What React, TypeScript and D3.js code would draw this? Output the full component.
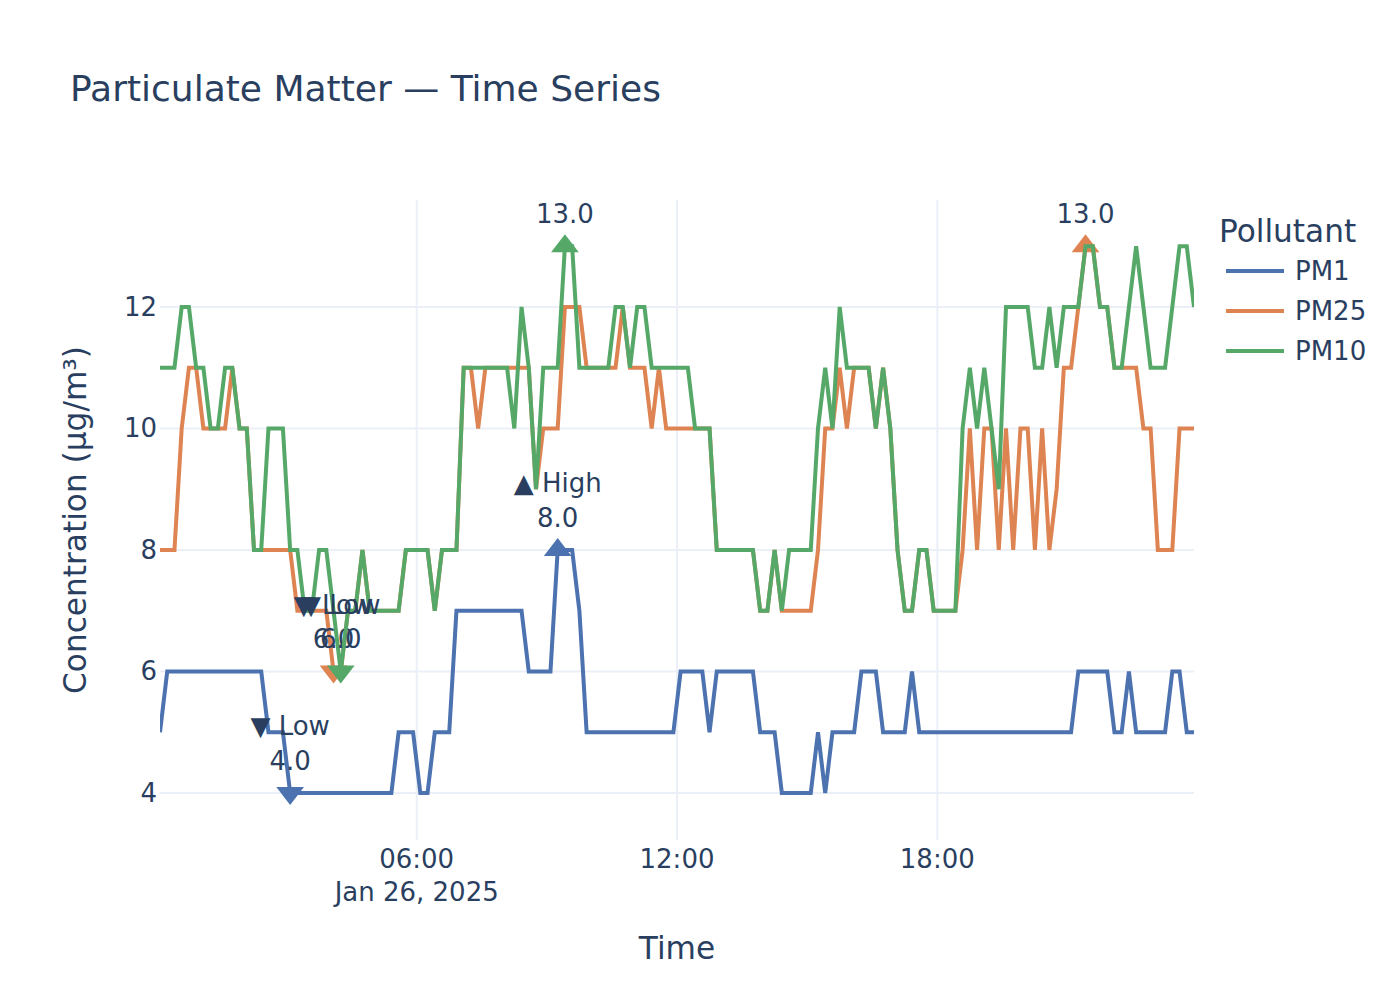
import React from 'react';
import * as d3 from 'd3';

// ---------- data ----------
const START = new Date(2025, 0, 26, 0, 5);
const STEP_MIN = 10;

const SERIES_NAMES = ['PM1', 'PM25', 'PM10'];
const COLORS = ['#4c72b0', '#dd8452', '#55a868'];

const PM1 = [
  5,
  6, 6, 6, 6, 6, 6, 6, 6, 6, 6, 6, 6, 6, 6,
  5, 5, 5,
  4, 4, 4, 4, 4, 4, 4, 4, 4, 4, 4, 4, 4, 4, 4,
  5, 5, 5,
  4, 4,
  5, 5, 5,
  7, 7, 7, 7, 7, 7, 7, 7, 7, 7,
  6, 6, 6, 6,
  8, 8, 8,
  7,
  5, 5, 5, 5, 5, 5, 5, 5, 5, 5, 5, 5, 5,
  6, 6, 6, 6,
  5,
  6, 6, 6, 6, 6, 6,
  5, 5, 5,
  4, 4, 4, 4, 4,
  5,
  4,
  5, 5, 5, 5,
  6, 6, 6,
  5, 5, 5, 5,
  6,
  5, 5, 5, 5, 5, 5, 5, 5, 5, 5, 5, 5, 5, 5, 5, 5, 5, 5, 5, 5, 5, 5,
  6, 6, 6, 6, 6,
  5, 5,
  6,
  5, 5, 5, 5, 5,
  6, 6,
  5, 5,
];

const PM25 = [
  8, 8, 8,
  10, 11, 11,
  10, 10, 10, 10,
  11,
  10, 10,
  8, 8, 8, 8, 8, 8,
  7, 7, 7, 7, 7,
  6, 6,
  7, 7,
  8,
  7, 7, 7, 7, 7,
  8, 8, 8, 8,
  7,
  8, 8, 8,
  11, 11, 10, 11,
  11, 11, 11, 11, 11, 11,
  9,
  10, 10, 10,
  12, 12, 12,
  11, 11, 11, 11, 11,
  12,
  11, 11, 11,
  10,
  11,
  10, 10, 10, 10, 10, 10, 10,
  8, 8, 8, 8, 8, 8,
  7, 7,
  8,
  7, 7, 7, 7, 7,
  8,
  10, 10,
  11,
  10,
  11, 11, 11,
  10,
  11,
  10,
  8,
  7, 7,
  8, 8,
  7, 7, 7, 7,
  8,
  10,
  8,
  10, 10,
  8,
  10,
  8,
  10, 10,
  8,
  10,
  8,
  9,
  11, 11,
  12,
  13, 13,
  12, 12,
  11, 11, 11, 11,
  10, 10,
  8, 8, 8,
  10, 10, 10,
];

const PM10 = [
  11, 11, 11,
  12, 12,
  11, 11,
  10, 10,
  11, 11,
  10, 10,
  8, 8,
  10, 10, 10,
  8, 8,
  7, 7,
  8, 8,
  7,
  6,
  7, 7,
  8,
  7, 7, 7, 7, 7,
  8, 8, 8, 8,
  7,
  8, 8, 8,
  11, 11, 11, 11, 11, 11, 11,
  10,
  12,
  11,
  9,
  11, 11, 11,
  13, 13,
  11, 11, 11, 11, 11,
  12, 12,
  11,
  12, 12,
  11, 11, 11, 11, 11, 11,
  10, 10, 10,
  8, 8, 8, 8, 8, 8,
  7, 7,
  8,
  7,
  8, 8, 8, 8,
  10,
  11,
  10,
  12,
  11, 11, 11, 11,
  10,
  11,
  10,
  8,
  7, 7,
  8, 8,
  7, 7, 7, 7,
  10,
  11,
  10,
  11,
  10,
  9,
  12, 12, 12, 12,
  11, 11,
  12,
  11,
  12, 12, 12,
  13, 13,
  12, 12,
  11, 11,
  12,
  13,
  12,
  11, 11, 11,
  12,
  13, 13,
  12,
];

const Y_TICKS = [4, 6, 8, 10, 12];
const Y_DOMAIN = [3.226, 13.761];

const TITLE = 'Particulate Matter — Time Series';
const X_TITLE = 'Time';
const Y_TITLE = 'Concentration (µg/m³)';
const LEGEND_TITLE = 'Pollutant';
const LOW_LABEL = '▼ Low';
const HIGH_LABEL = '▲ High';

// ---------- styles ----------
const FONT = "'DejaVu Sans', Verdana, sans-serif";
const TEXT = '#2a3f5f';
const GRID = '#ebf0f8';

const triUp = (r: number) => {
  const rt = (r * 2) / Math.sqrt(3);
  return `M${-rt},${r / 2}H${rt}L0,${-r}Z`;
};
const triDown = (r: number) => {
  const rt = (r * 2) / Math.sqrt(3);
  return `M${-rt},${-r / 2}H${rt}L0,${r}Z`;
};

export default function App() {
  const W = 1400;
  const H = 1000;
  const px0 = 160, px1 = 1194, py0 = 200, py1 = 840;

  const n = PM1.length;
  const times = d3.timeMinute.range(
    START,
    d3.timeMinute.offset(START, STEP_MIN * n),
    STEP_MIN
  );

  const x = d3
    .scaleTime()
    .domain([times[0], times[n - 1]])
    .range([px0, px1]);
  const y = d3.scaleLinear().domain(Y_DOMAIN).range([py1, py0]);

  const seriesData = [PM1, PM25, PM10].map((vals, k) => ({
    name: SERIES_NAMES[k],
    color: COLORS[k],
    values: vals,
  }));

  const lineGen = d3
    .line<number>()
    .x((_, i) => x(times[i]))
    .y((v) => y(v));

  const xTicks = x.ticks(d3.timeHour.every(6) as any);
  const fmtTime = d3.timeFormat('%H:%M');
  const fmtDate = d3.timeFormat('%b %-d, %Y');

  const annotations: { x: number; y: number; text: string }[] = [];
  seriesData.forEach((s) => {
    const iMin = d3.minIndex(s.values);
    const iMax = d3.maxIndex(s.values);
    annotations.push({ x: x(times[iMin]), y: y(s.values[iMin] + 1), text: LOW_LABEL });
    annotations.push({ x: x(times[iMax]), y: y(s.values[iMax] + 1), text: HIGH_LABEL });
  });

  return (
    <svg
      width={W}
      height={H}
      style={{ position: 'absolute', left: 0, top: 0, background: '#fff' }}
      fontFamily={FONT}
    >
      <defs>
        <clipPath id="plotclip">
          <rect x={px0} y={py0} width={px1 - px0} height={py1 - py0} />
        </clipPath>
      </defs>
      <rect x={0} y={0} width={W} height={H} fill="#fff" />

      {/* grid */}
      {Y_TICKS.map((t) => (
        <line key={'gy' + t} x1={px0} x2={px1} y1={y(t)} y2={y(t)} stroke={GRID} strokeWidth={2} />
      ))}
      {xTicks.map((t, i) => (
        <line key={'gx' + i} x1={x(t)} x2={x(t)} y1={py0} y2={py1} stroke={GRID} strokeWidth={2} />
      ))}

      {/* traces */}
      <g clipPath="url(#plotclip)">
        {seriesData.map((s) => {
          const iMin = d3.minIndex(s.values);
          const iMax = d3.maxIndex(s.values);
          return (
            <g key={s.name}>
              <path d={lineGen(s.values) || ''} fill="none" stroke={s.color} strokeWidth={4} />
              {[
                { i: iMin, d: triDown(12) },
                { i: iMax, d: triUp(12) },
              ].map((m, j) => (
                <g key={j}>
                  <path
                    d={m.d}
                    transform={`translate(${x(times[m.i])},${y(s.values[m.i])})`}
                    fill={s.color}
                  />
                  <text
                    x={x(times[m.i])}
                    y={y(s.values[m.i]) - 23}
                    textAnchor="middle"
                    fontSize={26}
                    fill={TEXT}
                  >
                    {s.values[m.i].toFixed(1)}
                  </text>
                </g>
              ))}
            </g>
          );
        })}
        {annotations.map((a, i) => (
          <text key={'an' + i} x={a.x} y={a.y + 3} textAnchor="middle" fontSize={26} fill={TEXT}>
            {a.text}
          </text>
        ))}
      </g>

      {/* y axis labels */}
      {Y_TICKS.map((t) => (
        <text key={'yl' + t} x={157} y={y(t) + 9} textAnchor="end" fontSize={26} fill={TEXT}>
          {t}
        </text>
      ))}
      {/* x axis labels */}
      {xTicks.map((t, i) => (
        <g key={'xl' + i}>
          <text x={x(t)} y={868} textAnchor="middle" fontSize={26} fill={TEXT}>
            {fmtTime(t)}
          </text>
          {i === 0 && (
            <text x={x(t)} y={901} textAnchor="middle" fontSize={26} fill={TEXT}>
              {fmtDate(t)}
            </text>
          )}
        </g>
      ))}

      {/* axis titles */}
      <text x={(px0 + px1) / 2} y={959} textAnchor="middle" fontSize={31.2} fill={TEXT}>
        {X_TITLE}
      </text>
      <text
        transform={`translate(86,${(py0 + py1) / 2}) rotate(-90)`}
        textAnchor="middle"
        fontSize={31.2}
        fill={TEXT}
      >
        {Y_TITLE}
      </text>

      {/* title */}
      <text x={70} y={101} fontSize={36} fill={TEXT}>
        {TITLE}
      </text>

      {/* legend */}
      <text x={1219} y={242} fontSize={31.2} fill={TEXT}>
        {LEGEND_TITLE}
      </text>
      {seriesData.map((s, k) => {
        const ly = 271 + k * 40;
        return (
          <g key={'lg' + s.name}>
            <line x1={1226} x2={1284} y1={ly} y2={ly} stroke={s.color} strokeWidth={4} />
            <text x={1295} y={ly + 9} fontSize={26} fill={TEXT}>
              {s.name}
            </text>
          </g>
        );
      })}
    </svg>
  );
}
